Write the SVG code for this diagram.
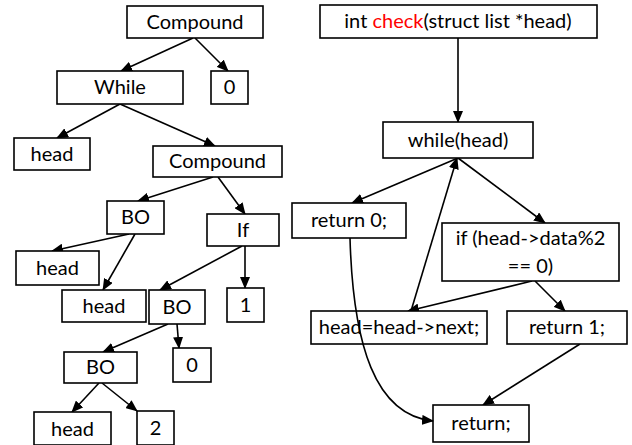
<svg xmlns="http://www.w3.org/2000/svg" width="632" height="445" viewBox="0 0 632 445">
<style>
rect{fill:#fff;stroke:#000;stroke-width:1.6}
text{font-family:Lato,"Open Sans","Liberation Sans",sans-serif;font-size:20px;fill:#000;text-anchor:middle}
.e{fill:none;stroke:#000;stroke-width:1.6;marker-end:url(#ah)}
.red{fill:#ff0000}
</style>
<defs>
<marker id="ah" markerUnits="userSpaceOnUse" markerWidth="12" markerHeight="10" refX="11" refY="5" orient="auto">
<path d="M0,0 L12,5 L0,10 z" fill="#000"/>
</marker>
</defs>
<rect x="0" y="0" width="632" height="445" style="stroke:none;fill:#fff"/>
<!-- straight connectors -->
<g id="edges">
<line class="e" x1="193" y1="38" x2="121" y2="71"/>
<line class="e" x1="195" y1="38" x2="228" y2="71"/>
<line class="e" x1="120" y1="104" x2="57" y2="138"/>
<line class="e" x1="120" y1="104" x2="215" y2="146"/>
<line class="e" x1="213" y1="177" x2="138" y2="201"/>
<line class="e" x1="218" y1="177" x2="245" y2="214"/>
<line class="e" x1="129" y1="234" x2="52" y2="251"/>
<line class="e" x1="135" y1="234" x2="103" y2="290"/>
<line class="e" x1="242" y1="246" x2="160" y2="290"/>
<line class="e" x1="245" y1="246" x2="245" y2="288"/>
<line class="e" x1="168" y1="324" x2="103" y2="352"/>
<line class="e" x1="177" y1="324" x2="179" y2="348"/>
<line class="e" x1="99" y1="383" x2="72" y2="412"/>
<line class="e" x1="102" y1="383" x2="137" y2="411"/>
<line class="e" x1="458" y1="38" x2="458" y2="122"/>
<line class="e" x1="458" y1="158" x2="352" y2="203"/>
<line class="e" x1="458" y1="158" x2="545" y2="223"/>
<line class="e" x1="411" y1="311" x2="457" y2="158"/>
<line class="e" x1="532" y1="281" x2="408" y2="311"/>
<line class="e" x1="535" y1="281" x2="565" y2="311"/>
<line class="e" x1="580" y1="344" x2="483" y2="405"/>
</g>
<!-- syntax tree -->
<g id="n_compound"><rect x="127" y="6" width="136" height="32"/><text x="195" y="29">Compound</text></g>
<g id="n_while"><rect x="57" y="71" width="126" height="33"/><text x="120" y="94">While</text></g>
<g id="n_zero1"><rect x="211" y="71" width="37" height="33"/><text x="229.5" y="94">0</text></g>
<g id="n_head1"><rect x="14" y="138" width="76" height="32"/><text x="52" y="161">head</text></g>
<g id="n_compound2"><rect x="153" y="146" width="129" height="31"/><text x="217.5" y="168">Compound</text></g>
<g id="n_bo1"><rect x="107" y="201" width="57" height="33"/><text x="135.5" y="224">BO</text></g>
<g id="n_if"><rect x="207" y="214" width="72" height="32"/><text x="243" y="237">If</text></g>
<g id="n_head2"><rect x="16" y="251" width="83" height="34"/><text x="57.5" y="275">head</text></g>
<g id="n_head3"><rect x="62" y="290" width="84" height="32"/><text x="104" y="313">head</text></g>
<g id="n_bo2"><rect x="149" y="290" width="56" height="34"/><text x="177" y="314">BO</text></g>
<g id="n_one"><rect x="227" y="288" width="37" height="34"/><text x="245.5" y="312">1</text></g>
<g id="n_bo3"><rect x="64" y="352" width="73" height="31"/><text x="100.5" y="374">BO</text></g>
<g id="n_zero2"><rect x="173" y="348" width="38" height="34"/><text x="192" y="372">0</text></g>
<g id="n_head4"><rect x="34" y="412" width="77" height="33"/><text x="72.5" y="436">head</text></g>
<g id="n_two"><rect x="137" y="411" width="37" height="34"/><text x="155.5" y="435">2</text></g>
<!-- control flow graph -->
<g id="c_func"><rect x="320" y="5" width="277" height="33"/><text x="458" y="28">int <tspan class="red">check</tspan>(struct list *head)</text></g>
<g id="c_while"><rect x="383" y="122" width="150" height="36"/><text x="458" y="147">while(head)</text></g>
<g id="c_ret0"><rect x="292" y="203" width="114" height="35"/><text x="349" y="227">return 0;</text></g>
<g id="c_if"><rect x="442" y="223" width="177" height="58"/><text x="530.5" y="245">if (head-&gt;data%2</text><text x="530.5" y="273">== 0)</text></g>
<g id="c_next"><rect x="311" y="311" width="176" height="33"/><text x="399" y="334">head=head-&gt;next;</text></g>
<g id="c_ret1"><rect x="507" y="311" width="120" height="33"/><text x="567" y="334">return 1;</text></g>
<g id="c_ret"><rect x="433" y="405" width="96" height="37"/><text x="481" y="430">return;</text></g>
<!-- curved connector, drawn over the box it crosses -->
<g id="edges_over">
<path class="e" d="M350,238 C353,345 375,415 433,421"/>
</g>
</svg>
